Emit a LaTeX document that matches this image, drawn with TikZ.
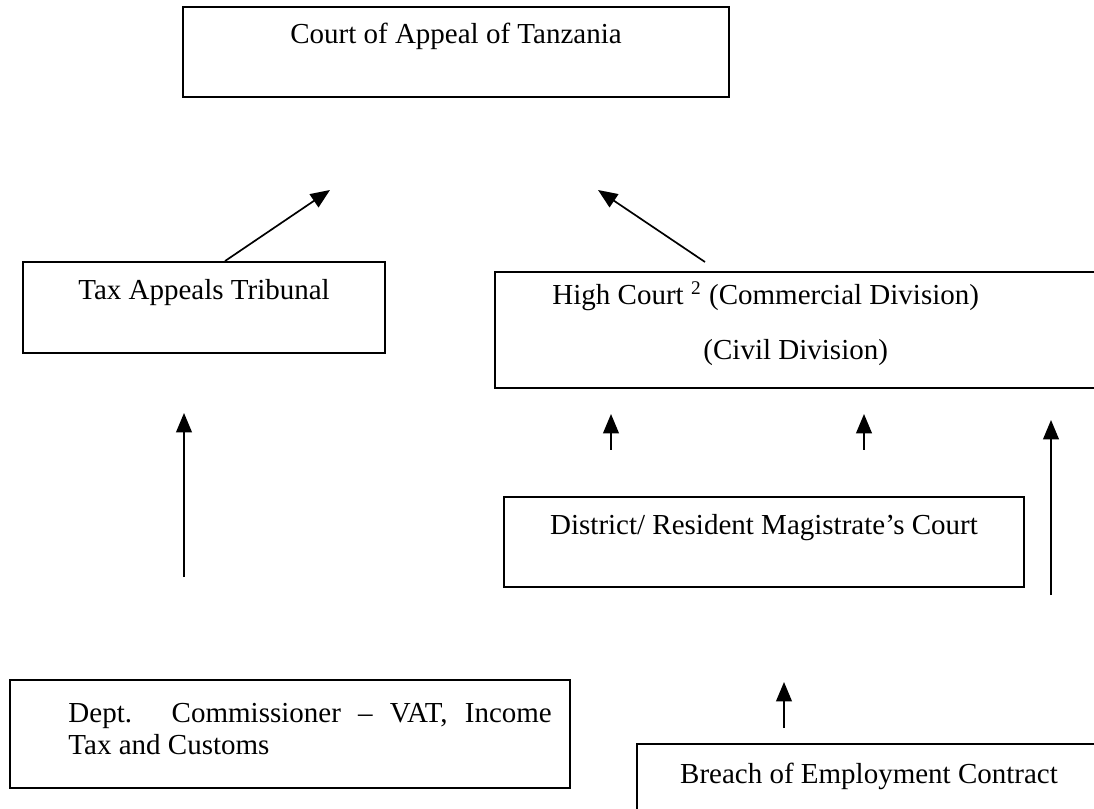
\documentclass[tikz,border=0pt]{standalone}
\usepackage{fontspec}
\setmainfont{Liberation Serif}
\usetikzlibrary{arrows.meta,fit}

\newcommand{\pu}{0.41379pt}

\tikzset{
  courtbox/.style={draw, line width=0.8pt, inner sep=0pt},
  lbl/.style={inner sep=0pt, anchor=base},
  appeal/.style={-{Triangle[length=8pt,width=6.5pt]}, line width=0.7pt}
}

\begin{document}
\begin{tikzpicture}[x=\pu,y=-\pu,font=\fontsize{12}{13.3}\selectfont]
        \useasboundingbox (0,0) rectangle (1094,809);
        \clip (0,0) rectangle (1094,809);

        % court boxes
        \node[courtbox, fit={(183,7) (729,97)}] (coa) {};
        \node[courtbox, fit={(23,262) (385,353)}] (tat) {};
        \node[courtbox, fit={(495,272) (1110,388)}] (hc) {};
        \node[courtbox, fit={(504,497) (1024,587)}] (drm) {};
        \node[courtbox, fit={(10,680) (570,788)}] (dc) {};
        \node[courtbox, fit={(637,744) (1110,830)}] (boec) {};

        % box texts
        \node[lbl] (coa-txt) at (456,44) {Court of Appeal of Tanzania};
        \node[lbl] (tat-txt) at (204,300) {Tax Appeals Tribunal};
        \node[lbl, anchor=base west] (hc-txt) at (552,305) {High Court \textsuperscript{2} (Commercial Division)};
        \node[lbl, anchor=base west] (hc-txt2) at (703,360) {(Civil Division)};
        \node[lbl] (drm-txt) at (764,534) {District/ Resident Magistrate’s Court};
        \node[lbl, anchor=base west, text width=200pt, align=justify] (dc-txt) at (68,722)
            {Dept. Commissioner – VAT, Income\linebreak Tax and Customs};
        \node[lbl] (boec-txt) at (869,783) {Breach of Employment Contract};

        % free arrow ends
        \coordinate (tat-tip) at (330,190);
        \coordinate (hc-tail) at (705,262);
        \coordinate (hc-tip) at (598,190);
        \coordinate (dc-tail) at (184,577);
        \coordinate (dc-tip) at (184,413);
        \coordinate (drm-tail-l) at (611,450);
        \coordinate (drm-tip-l) at (611,414);
        \coordinate (drm-tail-r) at (864,450);
        \coordinate (drm-tip-r) at (864,414);
        \coordinate (boec-tail) at (1051,595);
        \coordinate (boec-tip) at (1051,420);
        \coordinate (boec-tail2) at (784,728);
        \coordinate (boec-tip2) at (784,682);

        % appeal arrows
        \draw[appeal] ([xshift=8.7pt]tat.north) -- (tat-tip);
        \draw[appeal] (hc-tail) -- (hc-tip);
        \draw[appeal] (dc-tail) -- (dc-tip);
        \draw[appeal] (drm-tail-l) -- (drm-tip-l);
        \draw[appeal] (drm-tail-r) -- (drm-tip-r);
        \draw[appeal] (boec-tail) -- (boec-tip);
        \draw[appeal] (boec-tail2) -- (boec-tip2);
\end{tikzpicture}
\end{document}
